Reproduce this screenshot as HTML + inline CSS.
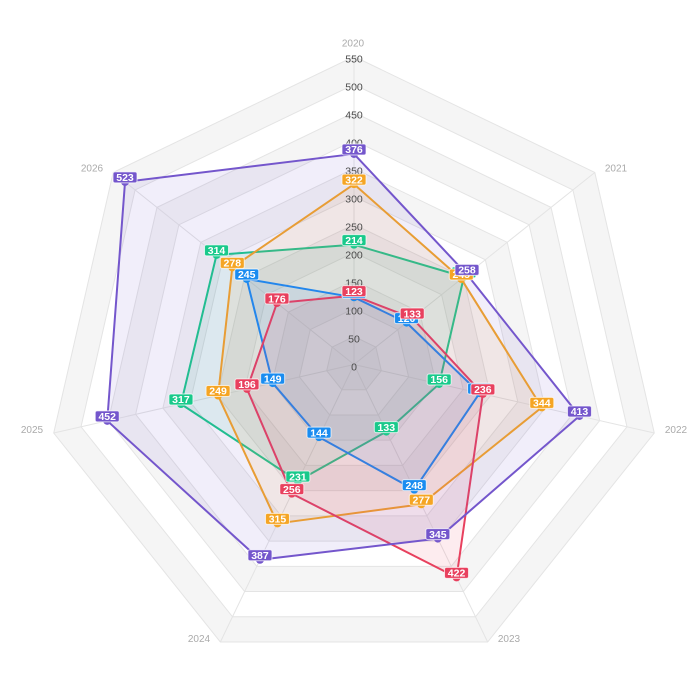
<!DOCTYPE html>
<html>
<head>
<meta charset="utf-8">
<style>
  html,body{margin:0;padding:0;background:#fff;}
  svg{display:block;}
  text{font-family:"Liberation Sans",Arial,sans-serif;}
  .tick{font-size:10.5px;fill:#4a4a4a;text-anchor:middle;}
  .axn{font-size:10px;fill:#aaa;text-anchor:middle;}
  .lb text{font-size:10.5px;font-weight:bold;fill:#fff;text-anchor:middle;}
  .lb rect{stroke:#fff;stroke-opacity:0.7;stroke-width:1;}
  .ring{fill:none;stroke:#e4e4e4;stroke-width:1;}
</style>
</head>
<body>
<svg width="700" height="700" viewBox="0 0 700 700" xmlns="http://www.w3.org/2000/svg">
<rect width="700" height="700" fill="#fff"/>
<defs>
  <polygon id="hep" points="0,-1 0.78183,-0.62349 0.97493,0.22252 0.43388,0.90097 -0.43388,0.90097 -0.97493,0.22252 -0.78183,-0.62349"/>
</defs>
<g transform="translate(354,364.5)">
  <!-- bands -->
  <g stroke="none">
    <use href="#hep" transform="scale(308)" fill="#f5f5f5"/>
    <use href="#hep" transform="scale(280)" fill="#ffffff"/>
    <use href="#hep" transform="scale(252)" fill="#f5f5f5"/>
    <use href="#hep" transform="scale(224)" fill="#ffffff"/>
    <use href="#hep" transform="scale(196)" fill="#f5f5f5"/>
    <use href="#hep" transform="scale(168)" fill="#ffffff"/>
    <use href="#hep" transform="scale(140)" fill="#f5f5f5"/>
    <use href="#hep" transform="scale(112)" fill="#ffffff"/>
    <use href="#hep" transform="scale(84)" fill="#f5f5f5"/>
    <use href="#hep" transform="scale(56)" fill="#ffffff"/>
    <use href="#hep" transform="scale(28)" fill="#f5f5f5"/>
  </g>
  <!-- ring lines -->
  <g class="ring">
    <polygon points="0,-308 240.80,-192.03 300.28,68.54 133.64,277.50 -133.64,277.50 -300.28,68.54 -240.80,-192.03"/>
    <polygon points="0,-280 218.91,-174.58 272.98,62.31 121.49,252.27 -121.49,252.27 -272.98,62.31 -218.91,-174.58"/>
    <polygon points="0,-252 197.02,-157.12 245.68,56.08 109.34,227.04 -109.34,227.04 -245.68,56.08 -197.02,-157.12"/>
    <polygon points="0,-224 175.13,-139.66 218.38,49.84 97.19,201.82 -97.19,201.82 -218.38,49.84 -175.13,-139.66"/>
    <polygon points="0,-196 153.24,-122.20 191.09,43.61 85.04,176.59 -85.04,176.59 -191.09,43.61 -153.24,-122.20"/>
    <polygon points="0,-168 131.35,-104.75 163.79,37.38 72.89,151.36 -72.89,151.36 -163.79,37.38 -131.35,-104.75"/>
    <polygon points="0,-140 109.46,-87.29 136.49,31.15 60.74,126.14 -60.74,126.14 -136.49,31.15 -109.46,-87.29"/>
    <polygon points="0,-112 87.56,-69.83 109.19,24.92 48.59,100.91 -48.59,100.91 -109.19,24.92 -87.56,-69.83"/>
    <polygon points="0,-84 65.67,-52.37 81.89,18.69 36.45,75.68 -36.45,75.68 -81.89,18.69 -65.67,-52.37"/>
    <polygon points="0,-56 43.78,-34.92 54.60,12.46 24.30,50.45 -24.30,50.45 -54.60,12.46 -43.78,-34.92"/>
    <polygon points="0,-28 21.89,-17.46 27.30,6.23 12.15,25.23 -12.15,25.23 -27.30,6.23 -21.89,-17.46"/>
    <line x1="0" y1="0" x2="0" y2="-308"/>
    <line x1="0" y1="0" x2="240.80" y2="-192.03"/>
    <line x1="0" y1="0" x2="300.28" y2="68.54"/>
    <line x1="0" y1="0" x2="133.64" y2="277.50"/>
    <line x1="0" y1="0" x2="-133.64" y2="277.50"/>
    <line x1="0" y1="0" x2="-300.28" y2="68.54"/>
    <line x1="0" y1="0" x2="-240.80" y2="-192.03"/>
  </g>

  <!-- series areas/lines -->
  <g stroke-width="2" stroke-linejoin="round">
    <polygon points="0,-119.84 109.89,-87.64 85.17,19.44 32.32,67.10 -56.13,116.55 -173.07,39.50 -137.48,-109.63" fill="#19c98b" fill-opacity="0.1" stroke="#19c98b"/>
    <polygon points="0,-180.32 107.27,-85.54 187.81,42.87 67.30,139.76 -76.54,158.93 -135.94,31.03 -121.72,-97.07" fill="#f5a524" fill-opacity="0.1" stroke="#f5a524"/>
    <polygon points="0,-67.2 52.54,-41.90 125.57,28.66 60.26,125.13 -34.99,72.65 -81.35,18.57 -107.27,-85.54" fill="#1a8cf0" fill-opacity="0.1" stroke="#1a8cf0"/>
    <polygon points="0,-68.88 58.23,-46.44 128.85,29.41 102.53,212.92 -62.20,129.16 -107.01,24.42 -77.06,-61.45" fill="#e8405e" fill-opacity="0.1" stroke="#e8405e"/>
    <polygon points="0,-210.56 112.96,-90.08 225.48,51.46 83.83,174.07 -94.03,195.26 -246.77,56.32 -228.98,-182.61" fill="#7456cc" fill-opacity="0.1" stroke="#7456cc"/>
  </g>

  <!-- tick labels -->
  <g class="tick">
    <text x="0" y="5.8">0</text>
    <text x="0" y="-22.2">50</text>
    <text x="0" y="-50.2">100</text>
    <text x="0" y="-78.2">150</text>
    <text x="0" y="-106.2">200</text>
    <text x="0" y="-134.2">250</text>
    <text x="0" y="-162.2">300</text>
    <text x="0" y="-190.2">350</text>
    <text x="0" y="-218.2">400</text>
    <text x="0" y="-246.2">450</text>
    <text x="0" y="-274.2">500</text>
    <text x="0" y="-302.2">550</text>
  </g>

  <!-- symbols -->
  <g fill="#19c98b">
    <circle cx="0" cy="-119.84" r="4"/><circle cx="109.89" cy="-87.64" r="4"/><circle cx="85.17" cy="19.44" r="4"/><circle cx="32.32" cy="67.10" r="4"/><circle cx="-56.13" cy="116.55" r="4"/><circle cx="-173.07" cy="39.50" r="4"/><circle cx="-137.48" cy="-109.63" r="4"/>
  </g>
  <g fill="#f5a524">
    <circle cx="0" cy="-180.32" r="4"/><circle cx="107.27" cy="-85.54" r="4"/><circle cx="187.81" cy="42.87" r="4"/><circle cx="67.30" cy="139.76" r="4"/><circle cx="-76.54" cy="158.93" r="4"/><circle cx="-135.94" cy="31.03" r="4"/><circle cx="-121.72" cy="-97.07" r="4"/>
  </g>
  <g fill="#1a8cf0">
    <circle cx="0" cy="-67.2" r="4"/><circle cx="52.54" cy="-41.90" r="4"/><circle cx="125.57" cy="28.66" r="4"/><circle cx="60.26" cy="125.13" r="4"/><circle cx="-34.99" cy="72.65" r="4"/><circle cx="-81.35" cy="18.57" r="4"/><circle cx="-107.27" cy="-85.54" r="4"/>
  </g>
  <g fill="#e8405e">
    <circle cx="0" cy="-68.88" r="4"/><circle cx="58.23" cy="-46.44" r="4"/><circle cx="128.85" cy="29.41" r="4"/><circle cx="102.53" cy="212.92" r="4"/><circle cx="-62.20" cy="129.16" r="4"/><circle cx="-107.01" cy="24.42" r="4"/><circle cx="-77.06" cy="-61.45" r="4"/>
  </g>
  <g fill="#7456cc">
    <circle cx="0" cy="-210.56" r="4"/><circle cx="112.96" cy="-90.08" r="4"/><circle cx="225.48" cy="51.46" r="4"/><circle cx="83.83" cy="174.07" r="4"/><circle cx="-94.03" cy="195.26" r="4"/><circle cx="-246.77" cy="56.32" r="4"/><circle cx="-228.98" cy="-182.61" r="4"/>
  </g>

  <!-- labels: green -->
  <g class="lb" fill="#19c98b">
    <g transform="translate(0,-119.84)"><rect x="-12" y="-10" width="24" height="11" rx="2"/><text y="-0.8">214</text></g>
    <g transform="translate(109.89,-87.64)"><rect x="-12" y="-10" width="24" height="11" rx="2"/><text y="-0.8">251</text></g>
    <g transform="translate(85.17,19.44)"><rect x="-12" y="-10" width="24" height="11" rx="2"/><text y="-0.8">156</text></g>
    <g transform="translate(32.32,67.10)"><rect x="-12" y="-10" width="24" height="11" rx="2"/><text y="-0.8">133</text></g>
    <g transform="translate(-56.13,116.55)"><rect x="-12" y="-10" width="24" height="11" rx="2"/><text y="-0.8">231</text></g>
    <g transform="translate(-173.07,39.50)"><rect x="-12" y="-10" width="24" height="11" rx="2"/><text y="-0.8">317</text></g>
    <g transform="translate(-137.48,-109.63)"><rect x="-12" y="-10" width="24" height="11" rx="2"/><text y="-0.8">314</text></g>
  </g>
  <!-- labels: orange -->
  <g class="lb" fill="#f5a524">
    <g transform="translate(0,-180.32)"><rect x="-12" y="-10" width="24" height="11" rx="2"/><text y="-0.8">322</text></g>
    <g transform="translate(107.27,-85.54)"><rect x="-12" y="-10" width="24" height="11" rx="2"/><text y="-0.8">245</text></g>
    <g transform="translate(187.81,42.87)"><rect x="-12" y="-10" width="24" height="11" rx="2"/><text y="-0.8">344</text></g>
    <g transform="translate(67.30,139.76)"><rect x="-12" y="-10" width="24" height="11" rx="2"/><text y="-0.8">277</text></g>
    <g transform="translate(-76.54,158.93)"><rect x="-12" y="-10" width="24" height="11" rx="2"/><text y="-0.8">315</text></g>
    <g transform="translate(-135.94,31.03)"><rect x="-12" y="-10" width="24" height="11" rx="2"/><text y="-0.8">249</text></g>
    <g transform="translate(-121.72,-97.07)"><rect x="-12" y="-10" width="24" height="11" rx="2"/><text y="-0.8">278</text></g>
  </g>
  <!-- labels: blue -->
  <g class="lb" fill="#1a8cf0">
    <g transform="translate(0,-67.2)"><rect x="-12" y="-10" width="24" height="11" rx="2"/><text y="-0.8">120</text></g>
    <g transform="translate(52.54,-41.90)"><rect x="-12" y="-10" width="24" height="11" rx="2"/><text y="-0.8">120</text></g>
    <g transform="translate(125.57,28.66)"><rect x="-12" y="-10" width="24" height="11" rx="2"/><text y="-0.8">230</text></g>
    <g transform="translate(60.26,125.13)"><rect x="-12" y="-10" width="24" height="11" rx="2"/><text y="-0.8">248</text></g>
    <g transform="translate(-34.99,72.65)"><rect x="-12" y="-10" width="24" height="11" rx="2"/><text y="-0.8">144</text></g>
    <g transform="translate(-81.35,18.57)"><rect x="-12" y="-10" width="24" height="11" rx="2"/><text y="-0.8">149</text></g>
    <g transform="translate(-107.27,-85.54)"><rect x="-12" y="-10" width="24" height="11" rx="2"/><text y="-0.8">245</text></g>
  </g>
  <!-- labels: red -->
  <g class="lb" fill="#e8405e">
    <g transform="translate(0,-68.88)"><rect x="-12" y="-10" width="24" height="11" rx="2"/><text y="-0.8">123</text></g>
    <g transform="translate(58.23,-46.44)"><rect x="-12" y="-10" width="24" height="11" rx="2"/><text y="-0.8">133</text></g>
    <g transform="translate(128.85,29.41)"><rect x="-12" y="-10" width="24" height="11" rx="2"/><text y="-0.8">236</text></g>
    <g transform="translate(102.53,212.92)"><rect x="-12" y="-10" width="24" height="11" rx="2"/><text y="-0.8">422</text></g>
    <g transform="translate(-62.20,129.16)"><rect x="-12" y="-10" width="24" height="11" rx="2"/><text y="-0.8">256</text></g>
    <g transform="translate(-107.01,24.42)"><rect x="-12" y="-10" width="24" height="11" rx="2"/><text y="-0.8">196</text></g>
    <g transform="translate(-77.06,-61.45)"><rect x="-12" y="-10" width="24" height="11" rx="2"/><text y="-0.8">176</text></g>
  </g>
  <!-- labels: purple -->
  <g class="lb" fill="#7456cc">
    <g transform="translate(0,-210.56)"><rect x="-12" y="-10" width="24" height="11" rx="2"/><text y="-0.8">376</text></g>
    <g transform="translate(112.96,-90.08)"><rect x="-12" y="-10" width="24" height="11" rx="2"/><text y="-0.8">258</text></g>
    <g transform="translate(225.48,51.46)"><rect x="-12" y="-10" width="24" height="11" rx="2"/><text y="-0.8">413</text></g>
    <g transform="translate(83.83,174.07)"><rect x="-12" y="-10" width="24" height="11" rx="2"/><text y="-0.8">345</text></g>
    <g transform="translate(-94.03,195.26)"><rect x="-12" y="-10" width="24" height="11" rx="2"/><text y="-0.8">387</text></g>
    <g transform="translate(-246.77,56.32)"><rect x="-12" y="-10" width="24" height="11" rx="2"/><text y="-0.8">452</text></g>
    <g transform="translate(-228.98,-182.61)"><rect x="-12" y="-10" width="24" height="11" rx="2"/><text y="-0.8">523</text></g>
  </g>
</g>

<!-- axis names -->
<g class="axn">
  <text x="353" y="46.5">2020</text>
  <text x="616" y="171.5">2021</text>
  <text x="676" y="433">2022</text>
  <text x="509" y="642">2023</text>
  <text x="199" y="642">2024</text>
  <text x="32" y="433">2025</text>
  <text x="92" y="171.5">2026</text>
</g>
</svg>
</body>
</html>
